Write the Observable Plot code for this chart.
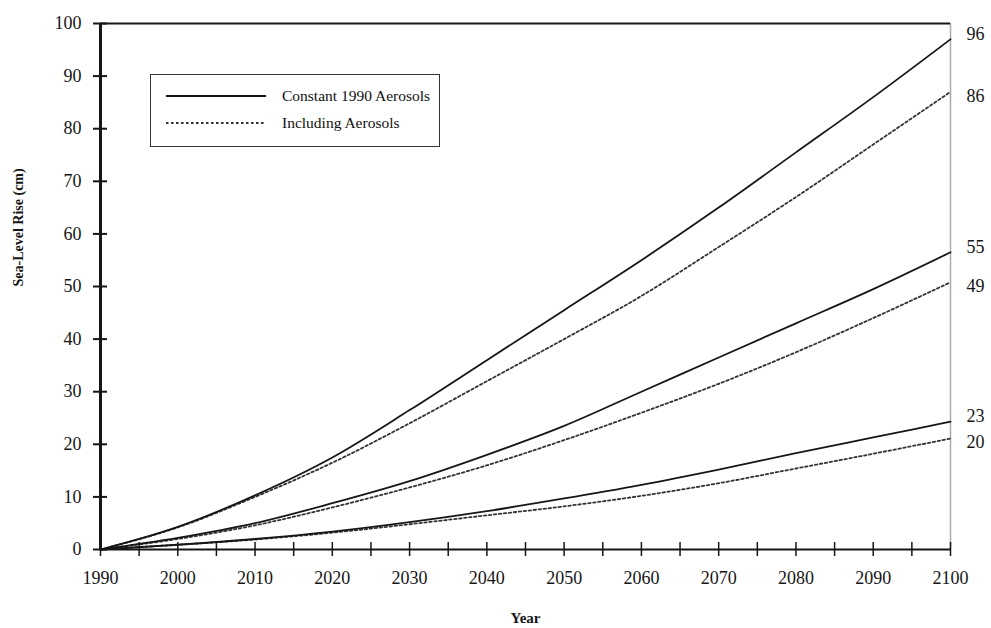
<!DOCTYPE html>
<html>
<head>
<meta charset="utf-8">
<script src="https://cdn.jsdelivr.net/npm/d3@7"></script>
<script src="https://cdn.jsdelivr.net/npm/@observablehq/plot@0.6"></script>
<style>
  html, body { margin: 0; padding: 0; background: #fff; }
  #wrap { position: relative; width: 991px; height: 628px; font-family: "Liberation Serif", "DejaVu Serif", serif; }
  #legend { position: absolute; left: 150px; top: 74px; width: 290px; height: 73px; border: 1.5px solid #333; box-sizing: border-box; background: #fff; }
  #legend .row { position: absolute; left: 14px; display: flex; align-items: center; font-size: 15.5px; color: #111; font-family: "Liberation Serif", serif; }
  #legend svg { margin-right: 15px; }
</style>
</head>
<body>
<div id="wrap">
  <div id="chart"></div>
  <div id="legend"></div>
</div>
<script>
// ---- data ----
const years = [1990, 2000, 2010, 2020, 2030, 2040, 2050, 2060, 2070, 2080, 2090, 2100];
const highConstant   = [0, 4.3, 10.3, 17.5, 26.5, 36.0, 45.5, 55.0, 65.0, 75.5, 86.0, 97.0];
const highAerosols   = [0, 4.2, 10.0, 16.5, 24.0, 32.0, 40.0, 48.2, 57.5, 67.0, 77.0, 87.0];
const midConstant    = [0, 2.2, 5.0, 8.8, 13.0, 18.0, 23.5, 30.0, 36.5, 43.0, 49.5, 56.5];
const midAerosols    = [0, 2.0, 4.6, 8.0, 11.8, 16.0, 20.8, 26.0, 31.5, 37.5, 44.0, 50.8];
const lowConstant    = [0, 0.9, 2.0, 3.4, 5.2, 7.3, 9.7, 12.3, 15.2, 18.3, 21.3, 24.3];
const lowAerosols    = [0, 0.9, 1.9, 3.2, 4.8, 6.5, 8.2, 10.2, 12.6, 15.4, 18.2, 21.1];
const constantEndLabels = ["96", "55", "23"];
const aerosolEndLabels  = ["86", "49", "20"];
const yTicks = [0, 10, 20, 30, 40, 50, 60, 70, 80, 90, 100];
const xLabelTicks = [1990, 2000, 2010, 2020, 2030, 2040, 2050, 2060, 2070, 2080, 2090, 2100];
const xMarkTicks = [1990, 1995, 2000, 2005, 2010, 2015, 2020, 2025, 2030, 2035, 2040, 2045, 2050, 2055, 2060, 2065, 2070, 2075, 2080, 2085, 2090, 2095, 2100];
const legendLabels = ["Constant 1990 Aerosols", "Including Aerosols"];
const yTitle = "Sea-Level Rise (cm)";
const xTitle = "Year";

// ---- build tables ----
function tidy(arr, series) { return years.map((yr, i) => ({year: yr, value: arr[i], series})); }
const constantData = [...tidy(highConstant, "high"), ...tidy(midConstant, "mid"), ...tidy(lowConstant, "low")];
const aerosolData = [...tidy(highAerosols, "high"), ...tidy(midAerosols, "mid"), ...tidy(lowAerosols, "low")];
const last = years.length - 1;
const constantEnds = [highConstant, midConstant, lowConstant].map((a, i) => ({year: years[last], value: a[last], label: constantEndLabels[i]}));
const aerosolEnds = [highAerosols, midAerosols, lowAerosols].map((a, i) => ({year: years[last], value: a[last], label: aerosolEndLabels[i]}));

const ink = "#161616";
const chart = Plot.plot({
  width: 991,
  height: 628,
  marginLeft: 100,
  marginRight: 41,
  marginTop: 23,
  marginBottom: 79,
  x: {domain: [1990, 2100]},
  y: {domain: [0, 100]},
  style: {fontFamily: "'Liberation Serif', serif", fontSize: "18px", color: ink, background: "#fff", overflow: "visible"},
  marks: [
    // frame
    Plot.ruleX([2100], {stroke: "#aaa", strokeWidth: 1.5}),
    Plot.ruleY([100], {stroke: ink, strokeWidth: 2}),
    Plot.ruleY([0], {stroke: ink, strokeWidth: 2}),
    Plot.ruleX([1990], {stroke: ink, strokeWidth: 3}),
    // y axis: crossing ticks + labels
    Plot.axisY({ticks: yTicks, tickSize: 14, dx: 7, fill: "none", label: null, stroke: ink, strokeWidth: 2}),
    Plot.axisY({ticks: yTicks, tickSize: 0, tickPadding: 19, tickFormat: d => String(d), label: null, fill: ink}),
    // x axis: crossing ticks + labels
    Plot.axisX({ticks: xMarkTicks, tickSize: 14, dy: -7, fill: "none", label: null, stroke: ink, strokeWidth: 1.5}),
    Plot.axisX({ticks: xLabelTicks, tickSize: 0, tickPadding: 22, tickFormat: d => String(d), label: null, fill: ink}),
    // lines
    Plot.line(aerosolData, {x: "year", y: "value", z: "series", stroke: "#333", strokeWidth: 1.8, strokeDasharray: "2.5,2.5", curve: "monotone-x"}),
    Plot.line(constantData, {x: "year", y: "value", z: "series", stroke: ink, strokeWidth: 1.8, curve: "monotone-x"}),
    // end labels
    Plot.text(constantEnds, {x: "year", y: "value", text: "label", textAnchor: "start", dx: 16, dy: -5, fill: ink}),
    Plot.text(aerosolEnds, {x: "year", y: "value", text: "label", textAnchor: "start", dx: 16, dy: 4, fill: ink}),
    // axis titles
    Plot.text([yTitle], {frameAnchor: "left", rotate: -90, dx: -82, fontWeight: "bold", fontSize: 14, fill: ink}),
    Plot.text([xTitle], {frameAnchor: "bottom", dy: 73, fontWeight: "bold", fontSize: 15, fill: ink})
  ]
});
document.getElementById("chart").appendChild(chart);

// legend overlay (inside plot area)
const legend = document.getElementById("legend");
legendLabels.forEach((lab, i) => {
  const row = document.createElement("div");
  row.className = "row";
  row.style.top = (i === 0 ? 11 : 38) + "px";
  const dash = i === 0 ? "" : 'stroke-dasharray="2.5,2.5"';
  row.innerHTML = `<svg width="102" height="20"><line x1="1" x2="101" y1="10" y2="10" stroke="${i === 0 ? ink : '#333'}" stroke-width="1.8" ${dash}/></svg><span>${lab}</span>`;
  legend.appendChild(row);
});
</script>
</body>
</html>
